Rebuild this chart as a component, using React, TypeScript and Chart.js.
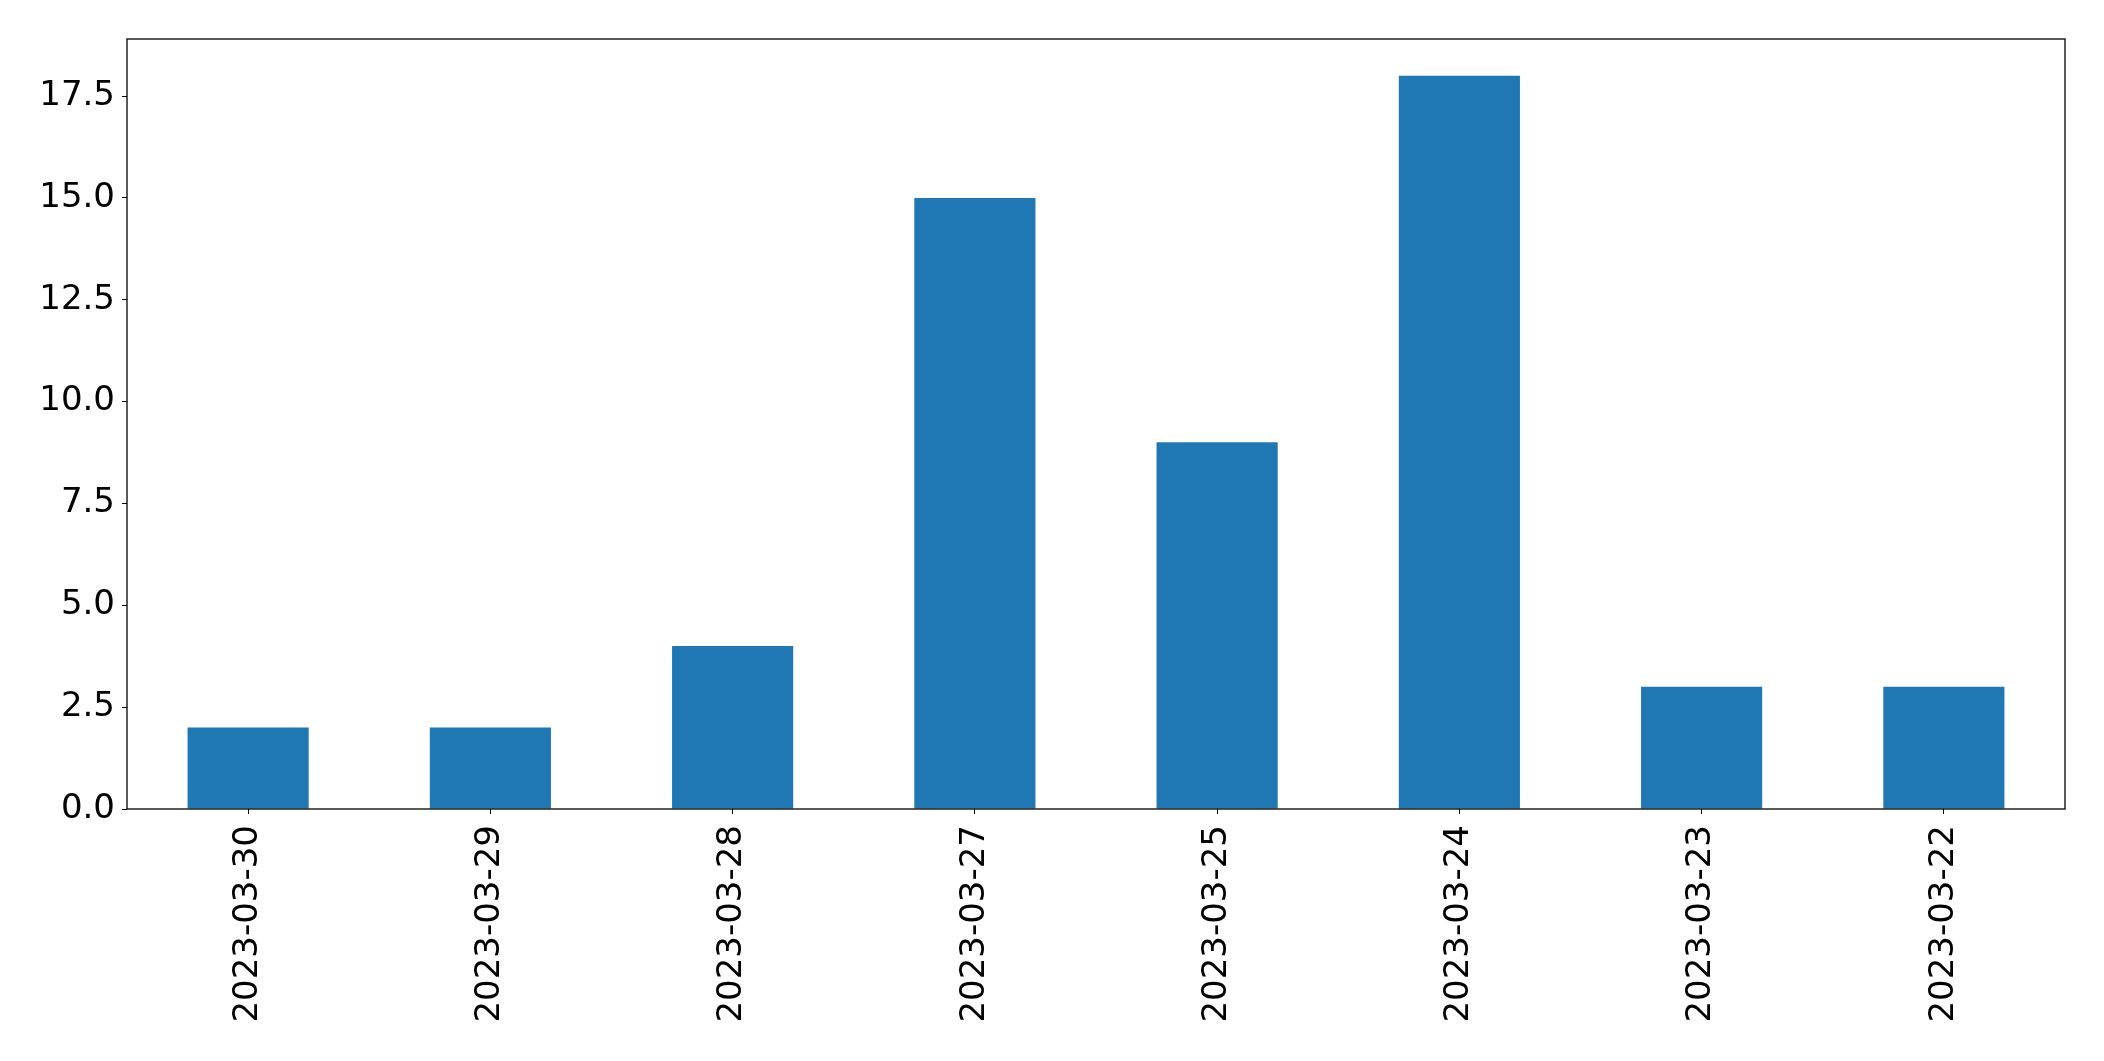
import { useEffect, useRef } from 'react';
import { Chart, registerables } from 'chart.js';

Chart.register(...registerables);

const dates = ['2023-03-30', '2023-03-29', '2023-03-28', '2023-03-27', '2023-03-25', '2023-03-24', '2023-03-23', '2023-03-22'];
const counts = [2, 2, 4, 15, 9, 18, 3, 3];
const yTicks = [0, 2.5, 5, 7.5, 10, 12.5, 15, 17.5];
const yMax = 18.9;

const frame = {
  id: 'frame',
  afterDraw(chart: Chart) {
    const { ctx, chartArea: a } = chart;
    ctx.save();
    ctx.strokeStyle = '#000';
    ctx.lineWidth = 1.3;
    ctx.strokeRect(a.left, a.top, a.right - a.left, a.bottom - a.top);
    ctx.restore();
  },
};

export default function App() {
  const canvasRef = useRef<HTMLCanvasElement>(null);

  useEffect(() => {
    document.body.style.margin = '0';
    if (!canvasRef.current) return;
    const font = { family: '"DejaVu Sans"', size: 34 };
    const chart = new Chart(canvasRef.current, {
      type: 'bar',
      data: {
        labels: dates,
        datasets: [{ data: counts, backgroundColor: '#1f77b4', barPercentage: 0.5, categoryPercentage: 1 }],
      },
      options: {
        animation: false,
        responsive: true,
        maintainAspectRatio: false,
        layout: { padding: { top: 39, right: 39, left: 0, bottom: 0 } },
        plugins: { legend: { display: false }, tooltip: { enabled: false } },
        scales: {
          x: {
            offset: true,
            grid: { display: true, drawOnChartArea: false, tickLength: 5, color: '#000', offset: false },
            border: { display: false },
            ticks: { font, color: '#000', minRotation: 90, maxRotation: 90, padding: 11, autoSkip: false },
            afterFit: (s: any) => { s.height = 252; },
          },
          y: {
            min: 0,
            max: yMax,
            grid: { display: true, drawOnChartArea: false, tickLength: 5, color: '#000' },
            border: { display: false },
            ticks: { font, color: '#000', padding: 7, callback: (v: any) => Number(v).toFixed(1) },
            afterBuildTicks: (s: any) => { s.ticks = yTicks.map((v) => ({ value: v })); },
            afterFit: (s: any) => { s.width = 127; },
          },
        },
      },
      plugins: [frame],
    });
    return () => chart.destroy();
  }, []);

  return (
    <div style={{ width: 2104, height: 1061, position: 'relative', background: '#fff' }}>
      <canvas ref={canvasRef} />
    </div>
  );
}
